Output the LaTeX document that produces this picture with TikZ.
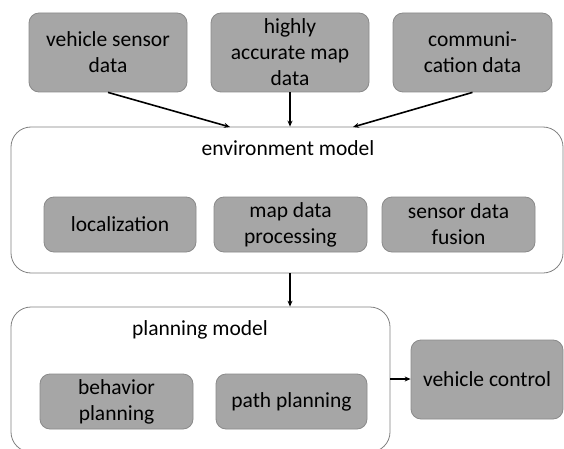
\documentclass[tikz,border=0pt]{standalone}
\usepackage{fontspec}
\setmainfont{Carlito}
\usetikzlibrary{arrows.meta}
\definecolor{boxfill}{HTML}{A6A6A6}
\definecolor{boxline}{HTML}{8A8A8A}
\definecolor{frameline}{HTML}{808080}
\begin{document}
\begin{tikzpicture}[x=1pt,y=-1pt,
  every node/.style={font=\fontsize{21.5}{26}\selectfont, text=black},
  block/.style={draw=boxline, fill=boxfill, line width=0.8pt, rounded corners=10pt,
    align=center, inner sep=0pt},
  frame/.style={draw=frameline, fill=white, line width=0.8pt, rounded corners=20pt, inner sep=0pt},
  flow/.style={-{Stealth[length=6pt,width=5pt]}, line width=1.6pt, black}]
\useasboundingbox (0,0) rectangle (564,449);

% outer containers
\node[frame, minimum width=552pt, minimum height=146pt] (env) at (287,200) {};
\node[frame, minimum width=379pt, minimum height=145pt] (plan) at (200.5,379.5) {};

\node (envtitle) at (288,148) {environment model};
\node (plantitle) at (200,330) {planning model};

% input data sources
\node[block, minimum width=158pt, minimum height=79pt] (sens) at (108,52.5) {vehicle sensor\\data};
\node[block, minimum width=158pt, minimum height=79pt] (map) at (290,52.5) {highly\\accurate map\\data};
\node[block, minimum width=159pt, minimum height=79pt] (comm) at (472.5,52.5) {communi-\\cation data};

% environment model parts
\node[block, minimum width=152pt, minimum height=55pt] (loc) at (120,224.5) {localization};
\node[block, minimum width=153pt, minimum height=55pt] (mdp) at (290.5,224.5) {map data\\processing};
\node[block, minimum width=153pt, minimum height=55pt] (sdf) at (458.5,224.5) {sensor data\\fusion};

% planning model parts
\node[block, minimum width=153pt, minimum height=55pt] (beh) at (116.5,401.5) {behavior\\planning};
\node[block, minimum width=151pt, minimum height=55pt] (path) at (291.5,401.5) {path planning};

% vehicle control
\node[block, minimum width=152pt, minimum height=79pt] (vc) at (487,379.5) {vehicle control};

% connectors
\coordinate (envL) at (230,127);
\coordinate (envR) at (353,127);
\draw[flow] (sens.south) -- (envL);
\draw[flow] (map.south) -- (map.south |- env.north);
\draw[flow] (comm.south) -- (envR);
\draw[flow] (env.south -| map.south) -- (plan.north -| map.south);
\draw[flow] ([yshift=0.5pt]plan.east |- vc.west) -- ([yshift=0.5pt]vc.west);
\end{tikzpicture}
\end{document}
